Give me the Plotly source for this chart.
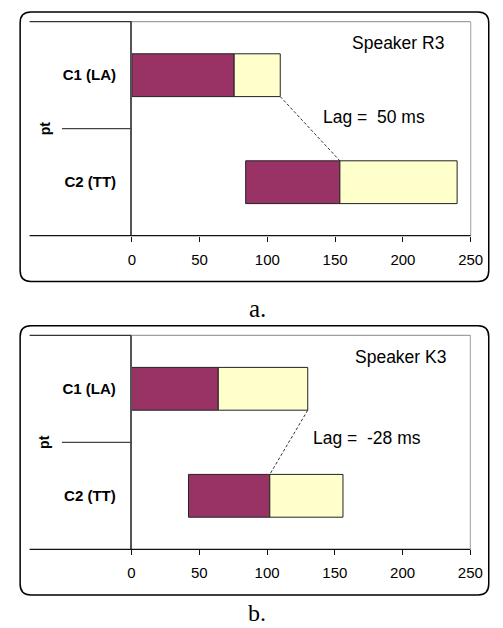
import plotly.graph_objects as go

# ---- data ----
categories = ["C1 (LA)", "C2 (TT)"]
r3_start = [0, 84]
r3_purple = [75.5, 69.5]
r3_yellow = [34, 86.5]
k3_start = [0, 42]
k3_purple = [64, 60]
k3_yellow = [66, 54]
tick_vals = [0, 50, 100, 150, 200, 250]
speakers = ["Speaker R3", "Speaker K3"]
lag_labels = ["Lag =\u00a0 50 ms", "Lag =\u00a0 -28 ms"]
panel_labels = ["a.", "b."]

W, H = 503, 628
PURPLE = "#993366"
YELLOW = "#FFFFCC"
BAR_W = 0.4


def px(x):
    return x / W


def py(y):
    return 1 - y / H


# panel geometry in pixels
panels = [
    dict(x0=132.3, x1=483, yt=21.7, yb=235.7, bt=12, bb=281.5),
    dict(x0=132.0, x1=482.7, yt=335.3, yb=549.3, bt=325.7, bb=595),
]

fig = go.Figure()
data_sets = [(r3_start, r3_purple, r3_yellow), (k3_start, k3_purple, k3_yellow)]

shapes = []
annotations = []


def txt(x, y, s, size, family="Liberation Sans", bold=False, angle=0):
    f = dict(family=family, size=size, color="black")
    if bold:
        f["weight"] = "bold"
    return dict(xref="paper", yref="paper", x=px(x), y=py(y), text=s,
                showarrow=False, xanchor="center", yanchor="middle",
                textangle=angle, font=f)


for i, ((st, pu, ye), p) in enumerate(zip(data_sets, panels)):
    xa = "x" if i == 0 else "x2"
    ya = "y" if i == 0 else "y2"
    fig.add_trace(go.Bar(
        y=categories, x=pu, base=st, orientation="h", width=BAR_W,
        marker=dict(color=PURPLE, line=dict(color="#222222", width=1)),
        xaxis=xa, yaxis=ya, showlegend=False, hoverinfo="skip"))
    fig.add_trace(go.Bar(
        y=categories, x=ye, base=[s + q for s, q in zip(st, pu)],
        orientation="h", width=BAR_W,
        marker=dict(color=YELLOW, line=dict(color="#222222", width=1)),
        xaxis=xa, yaxis=ya, showlegend=False, hoverinfo="skip"))

    # dashed lag line
    shapes.append(dict(type="line", xref=xa, yref=ya,
                       x0=st[0] + pu[0] + ye[0], y0=0 + BAR_W / 2,
                       x1=st[1] + pu[1], y1=1 - BAR_W / 2,
                       line=dict(color="#333333", width=1, dash="3px,2px")))
    # rounded border
    bx0, bx1, by0, by1, r = 16.7, 501.7, p["bt"], p["bb"], 11
    path = (f"M {px(bx0 + r)},{py(by0)} L {px(bx1 - r)},{py(by0)} "
            f"Q {px(bx1)},{py(by0)} {px(bx1)},{py(by0 + r)} "
            f"L {px(bx1)},{py(by1 - r)} Q {px(bx1)},{py(by1)} {px(bx1 - r)},{py(by1)} "
            f"L {px(bx0 + r)},{py(by1)} Q {px(bx0)},{py(by1)} {px(bx0)},{py(by1 - r)} "
            f"L {px(bx0)},{py(by0 + r)} Q {px(bx0)},{py(by0)} {px(bx0 + r)},{py(by0)} Z")
    shapes.append(dict(type="path", xref="paper", yref="paper", path=path,
                       line=dict(color="black", width=1.5), layer="below"))
    shapes.append(dict(type="line", xref="paper", yref="paper",
                       x0=px(26.5), x1=px(p["x0"]), y0=py(p["yt"]), y1=py(p["yt"]),
                       line=dict(color="#333333", width=1.2)))
    shapes.append(dict(type="line", xref="paper", yref="paper",
                       x0=px(p["x0"]), x1=px(p["x1"]), y0=py(p["yt"]), y1=py(p["yt"]),
                       line=dict(color="#A0A0A0", width=1.2)))
    shapes.append(dict(type="line", xref="paper", yref="paper",
                       x0=px(p["x1"]), x1=px(p["x1"]), y0=py(p["yt"]), y1=py(p["yb"]),
                       line=dict(color="#B0B0B0", width=1.2)))
    shapes.append(dict(type="line", xref="paper", yref="paper",
                       x0=px(26.5), x1=px(p["x1"]), y0=py(p["yb"]), y1=py(p["yb"]),
                       line=dict(color="#111111", width=1.2)))
    shapes.append(dict(type="line", xref="paper", yref=ya,
                       x0=px(60), x1=px(p["x0"]), y0=0.5, y1=0.5,
                       line=dict(color="#444444", width=1.2)))
    mid = (p["yt"] + p["yb"]) / 2
    annotations.append(txt(42, mid, "pt", 14, bold=True, angle=-90))
    annotations.append(txt(408 if i == 0 else 410.7, p["yt"] + 21.5, speakers[i], 17.5))
    annotations.append(txt(383 if i == 0 else 376, p["yt"] + (95.5 if i == 0 else 102.4),
                           lag_labels[i], 17.5))
    annotations.append(txt(262, 308 if i == 0 else 613, panel_labels[i],
                           25 if i == 0 else 24, family="Liberation Serif"))

axis_x = dict(range=[0, 250], tickvals=tick_vals, ticks="outside", ticklen=5,
              tickcolor="#111111", showgrid=False, zeroline=False, showline=False,
              ticklabelstandoff=5,
              tickfont=dict(family="Liberation Sans", size=15, color="black"),
              fixedrange=True)
axis_y = dict(type="category", categoryorder="array", categoryarray=categories,
              range=[1.5, -0.5], showgrid=False, zeroline=False, showline=True,
              linecolor="#555555", linewidth=1.5, ticks="", ticklabelstandoff=11,
              tickfont=dict(family="Liberation Sans", size=15, color="black",
                            weight="bold"),
              fixedrange=True)

fig.update_layout(
    width=W, height=H, margin=dict(l=0, r=0, t=0, b=0),
    paper_bgcolor="white", plot_bgcolor="white", barmode="overlay",
    xaxis=dict(axis_x, domain=[px(panels[0]["x0"]), px(panels[0]["x1"])], anchor="y"),
    yaxis=dict(axis_y, domain=[py(panels[0]["yb"]), py(panels[0]["yt"])], anchor="x"),
    xaxis2=dict(axis_x, domain=[px(panels[1]["x0"]), px(panels[1]["x1"])], anchor="y2"),
    yaxis2=dict(axis_y, domain=[py(panels[1]["yb"]), py(panels[1]["yt"])], anchor="x2"),
    shapes=shapes, annotations=annotations,
)

fig.write_html("out.html", config={"displayModeBar": False},
               post_script="document.body.style.margin='0';document.body.style.overflow='hidden';")
